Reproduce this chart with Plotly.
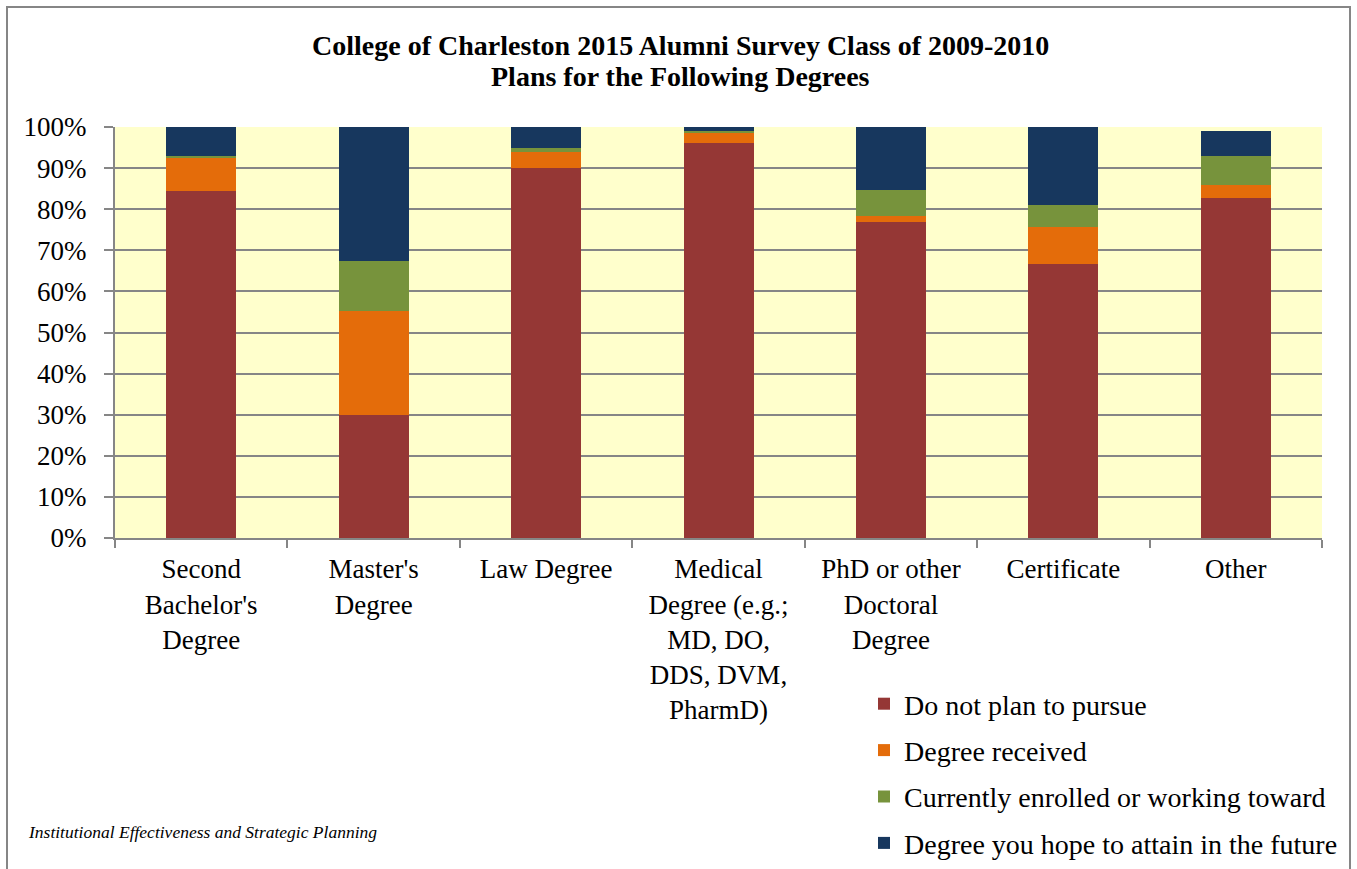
import plotly.graph_objects as go

categories = ["Second<br>Bachelor's<br>Degree", "Master's<br>Degree", "Law Degree",
              "Medical<br>Degree (e.g.;<br>MD, DO,<br>DDS, DVM,<br>PharmD)",
              "PhD or other<br>Doctoral<br>Degree", "Certificate", "Other"]
cat_keys = ["Second Bachelor's Degree", "Master's Degree", "Law Degree", "Medical Degree",
            "PhD or other Doctoral Degree", "Certificate", "Other"]

do_not_plan = [84.5, 30.0, 90.0, 96.1, 76.8, 66.7, 82.7]
degree_received = [8.0, 25.2, 3.8, 2.4, 1.6, 9.0, 3.1]
currently_enrolled = [0.5, 12.2, 1.2, 0.5, 6.3, 5.4, 7.1]
hope_future = [7.0, 32.6, 5.0, 1.0, 15.3, 18.9, 6.1]

series = [
    ("Do not plan to pursue", do_not_plan, "#953735"),
    ("Degree received", degree_received, "#E46C0A"),
    ("Currently enrolled or working toward", currently_enrolled, "#77933C"),
    ("Degree you hope to attain in the future", hope_future, "#17375E"),
]

FONT = "'Liberation Serif', 'DejaVu Serif', serif"
FS = 27

fig = go.Figure()
for i, (name, vals, color) in enumerate(series):
    fig.add_trace(go.Bar(
        x=cat_keys, y=vals, name=name, legendgroup=f"g{i}",
        marker=dict(color=color, line=dict(width=0)),
        hoverinfo="name+y",
    ))

# body margin is removed by post_script, so figure pixels == screen pixels
W, H = 1357, 869
PL, PR, PT, PB = 115, 1322, 127, 538
L, R, T, B = PL, W - PR, PT, H - PB
pw, ph = PR - PL, PB - PT

def sx(p):
    return (p - PL) / pw

def sy(p):
    return (PB - p) / ph

fig.update_layout(
    width=W, height=H,
    barmode="stack", bargap=0.594,
    paper_bgcolor="white", plot_bgcolor="#FFFFCC",
    margin=dict(l=L, r=R, t=T, b=B, pad=0, autoexpand=False),
    font=dict(family=FONT, color="black", size=FS),
    xaxis=dict(
        type="category", tickmode="array", tickvals=cat_keys, ticktext=categories,
        tickson="boundaries", ticks="outside", ticklen=8, tickcolor="#868686", tickwidth=2,
        showline=True, linecolor="#868686", linewidth=2, showgrid=False,
        tickfont=dict(family=FONT, size=FS), fixedrange=True, automargin=False,
        ticklabelstandoff=6,
    ),
    yaxis=dict(
        range=[0, 100], tickvals=[0, 10, 20, 30, 40, 50, 60, 70, 80, 90, 100],
        ticktext=[f"{v}%" for v in range(0, 101, 10)],
        ticks="outside", ticklen=9, tickcolor="#868686", tickwidth=2,
        showline=True, linecolor="#868686", linewidth=2,
        showgrid=True, gridcolor="#868686", gridwidth=2, zeroline=False,
        tickfont=dict(family=FONT, size=FS), fixedrange=True, automargin=False,
        ticklabelstandoff=12,
    ),
    legend=dict(
        x=sx(864), xanchor="left", y=sy(679), yanchor="top",
        traceorder="grouped", tracegroupgap=7,
        font=dict(family=FONT, size=28, color="black"),
        bgcolor="rgba(0,0,0,0)", itemclick=False, itemdoubleclick=False,
    ),
    shapes=[dict(
        type="rect", xref="paper", yref="paper",
        x0=sx(7), x1=sx(1350), y0=sy(900), y1=sy(7),
        line=dict(color="#868686", width=2), fillcolor="rgba(0,0,0,0)", layer="above",
    )],
    annotations=[
        dict(text="<b>College of Charleston 2015 Alumni Survey Class of 2009-2010</b>",
             xref="paper", yref="paper", x=sx(680), y=sy(45), xanchor="center", yanchor="middle",
             showarrow=False, font=dict(family=FONT, size=28, color="black")),
        dict(text="<b>Plans for the Following Degrees</b>",
             xref="paper", yref="paper", x=sx(680), y=sy(77), xanchor="center", yanchor="middle",
             showarrow=False, font=dict(family=FONT, size=28, color="black")),
        dict(text="<i>Institutional Effectiveness and Strategic Planning</i>",
             xref="paper", yref="paper", x=sx(26), y=sy(832),
             xanchor="left", yanchor="middle", showarrow=False,
             font=dict(family=FONT, size=17.5, color="black")),
    ],
)

fig.write_html("out.html", config={"displayModeBar": False},
               post_script="document.body.style.margin='0';document.body.style.overflow='hidden';")
